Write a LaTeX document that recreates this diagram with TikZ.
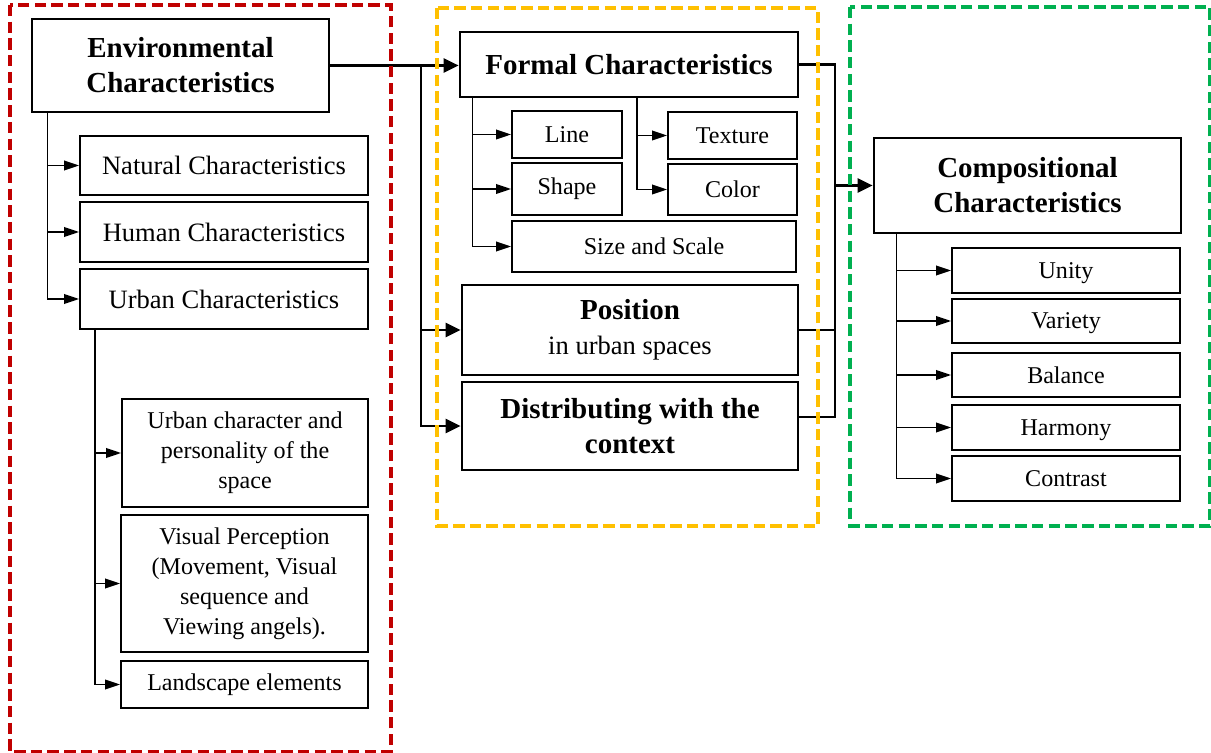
\documentclass[tikz,border=0pt]{standalone}
\usepackage{fontspec}
\setmainfont{Liberation Serif}
\usetikzlibrary{arrows.meta,positioning}
\definecolor{framered}{HTML}{C00000}
\definecolor{frameyellow}{HTML}{FFC000}
\definecolor{framegreen}{HTML}{00B050}

\begin{document}
\begin{tikzpicture}[x=0.02cm,y=-0.02cm,
	mainbox/.style={draw,line width=1.6pt,inner sep=0pt,align=center,
		font=\fontsize{16.5}{20}\selectfont\bfseries},
	subbox/.style={draw,line width=1.1pt,inner sep=0pt,align=center,
		font=\fontsize{15.1}{19}\selectfont},
	smallbox/.style={subbox,font=\fontsize{13.7}{17}\selectfont},
	itembox/.style={smallbox,minimum width=4.56cm,text depth=0pt},
	mainline/.style={line width=1.4pt},
	mainarrow/.style={mainline,-{Triangle[length=8.5pt,width=8pt]}},
	branch/.style={line width=0.85pt,-{Triangle[length=8.5pt,width=5.5pt]}},
	frame/.style={line width=2pt,dash pattern=on 6.5pt off 3pt}]

	\useasboundingbox (0,0) rectangle (1211,753);

	\node[mainbox,minimum width=5.94cm,minimum height=1.86cm] (env) at (180.5,65.5)
		{Environmental\\Characteristics};
	\node[subbox,minimum width=5.76cm,minimum height=1.18cm] (natural) at (224,165.5)
		{Natural Characteristics};
	\node[subbox,minimum width=5.76cm,minimum height=1.2cm] (human) at (224,232)
		{Human Characteristics};
	\node[subbox,minimum width=5.76cm,minimum height=1.2cm] (urban) at (224,299)
		{Urban Characteristics};
	\node[smallbox,minimum width=4.92cm,minimum height=2.16cm] (urbanchar) at (245,453)
		{Urban character and\\personality of the\\space};
	\node[smallbox,minimum width=4.94cm,minimum height=2.74cm] (visual) at (244.5,583.5)
		{Visual Perception\\(Movement, Visual\\sequence and\\Viewing angels).};
	\node[smallbox,minimum width=4.94cm,minimum height=0.94cm] (landscape) at (244.5,684.5)
		{Landscape elements};

	\node[mainbox,minimum width=6.76cm,minimum height=1.3cm] (formal) at (629,64.5)
		{Formal Characteristics};
	\node[smallbox,minimum width=2.2cm,minimum height=0.94cm] (line) at (567,134.5) {Line};
	\node[smallbox,minimum width=2.2cm,minimum height=1.04cm] (shape) at (567,189) {Shape};
	\node[smallbox,minimum width=5.68cm,minimum height=1.02cm] (size) at (654,246.5)
		{Size and Scale};
	\node[smallbox,minimum width=2.58cm,minimum height=0.94cm] (texture) at (732.5,135.5)
		{Texture};
	\node[smallbox,minimum width=2.58cm,minimum height=1.02cm] (color) at (732.5,189.5)
		{Color};
	\node[mainbox,font=\fontsize{15.1}{20}\selectfont,minimum width=6.72cm,minimum height=1.8cm]
		(position) at (630,330)
		{{\fontsize{16.5}{20}\selectfont\bfseries Position}\\in urban spaces};
	\node[mainbox,minimum width=6.72cm,minimum height=1.76cm] (distrib) at (630,426)
		{Distributing with the\\context};

	\node[mainbox,minimum width=6.14cm,minimum height=1.9cm] (comp) at (1027.5,185.5)
		{Compositional\\Characteristics};
	\node[itembox,minimum height=0.9cm] (unity) at (1066,270.5) {Unity};
	\node[itembox,minimum height=0.88cm] (variety) at (1066,321) {Variety};
	\node[itembox,minimum height=0.88cm] (balance) at (1066,375) {Balance};
	\node[itembox,minimum height=0.9cm] (harmony) at (1066,427.5) {Harmony};
	\node[itembox,minimum height=0.9cm] (contrast) at (1066,478.5) {Contrast};

	\coordinate (splitL) at (421,0);
	\coordinate (splitR) at (835,0);
	\coordinate (distribout) at ([yshift=5pt]distrib.east);

	\draw[branch] ([xshift=9.7pt]env.south west) |- (natural.west);
	\draw[branch] ([xshift=9.7pt]env.south west) |- (human.west);
	\draw[branch] ([xshift=9.7pt]env.south west) |- (urban.west);
	\draw[branch] ([xshift=9.1pt]urban.south west) |- (urbanchar.west);
	\draw[branch] ([xshift=9.1pt]urban.south west) |- (visual.west);
	\draw[branch] ([xshift=9.1pt]urban.south west) |- (landscape.west);

	\draw[branch] ([xshift=8pt]formal.south west) |- (line.west);
	\draw[branch] ([xshift=8pt]formal.south west) |- (shape.west);
	\draw[branch] ([xshift=8pt]formal.south west) |- (size.west);
	\draw[branch] ([xshift=4.5pt]formal.south) |- (texture.west);
	\draw[branch] ([xshift=4.5pt]formal.south) |- (color.west);

	\draw[branch] ([xshift=13.7pt]comp.south west) |- (unity.west);
	\draw[branch] ([xshift=13.7pt]comp.south west) |- (variety.west);
	\draw[branch] ([xshift=13.7pt]comp.south west) |- (balance.west);
	\draw[branch] ([xshift=13.7pt]comp.south west) |- (harmony.west);
	\draw[branch] ([xshift=13.7pt]comp.south west) |- (contrast.west);

	\draw[mainarrow] (env.east) -- (env.east -| formal.west);
	\draw[mainarrow] (splitL |- env.east) |- (position.west);
	\draw[mainarrow] (splitL |- env.east) |- (distrib.west);

	\draw[mainline] (formal.east) -- (formal.east -| splitR)
		-- (splitR |- distribout) -- (distribout);
	\draw[mainline] (position.east) -- (position.east -| splitR);
	\draw[mainarrow] (splitR |- comp.west) -- (comp.west);

	\draw[frame,framered] (10,5) rectangle (391,752);
	\draw[frame,frameyellow] (437,8) rectangle (818,526);
	\draw[frame,framegreen,line width=1.8pt] (850,7) rectangle (1210,526);
\end{tikzpicture}
\end{document}
